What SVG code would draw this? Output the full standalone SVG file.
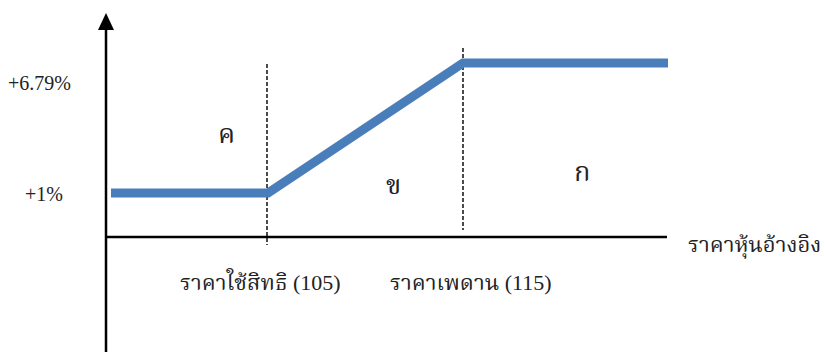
<svg xmlns="http://www.w3.org/2000/svg" width="825" height="352" viewBox="0 0 825 352">
<defs>
<style>
.t{font-family:"Liberation Serif","Times New Roman",serif;font-size:20px;fill:#222;}
.th{font-family:"Liberation Serif","Noto Serif Thai","Noto Sans Thai",serif;font-size:22px;fill:#222;}
.big{font-size:27px;}
.ax{stroke:#000;stroke-width:2.5;fill:none;}
.dash{stroke:#111;stroke-width:1.5;stroke-dasharray:4,2;fill:none;}
.curve{stroke:#4a7ebb;stroke-width:9;fill:none;stroke-linejoin:miter;}
</style>
</defs>
<rect width="825" height="352" fill="#fff"/>
<g id="connectors">
<line class="ax" x1="106" y1="352" x2="106" y2="28"/>
<polygon points="106,13 98,30 114,30" fill="#000"/>
<line class="ax" x1="106" y1="237" x2="667" y2="237"/>
<line class="dash" x1="267" y1="64" x2="267" y2="245"/>
<line class="dash" x1="463" y1="48" x2="463" y2="230"/>
<polyline class="curve" points="111,193 268,193 463,63 668,63"/>
</g>
<g id="ylabels">
<text class="t" x="8" y="90">+6.79%</text>
<text class="t" x="25" y="201">+1%</text>
</g>
<g id="regions">
<text class="th big" x="218" y="143">ค</text>
<text class="th big" x="386" y="194">ข</text>
<text class="th big" x="574" y="181">ก</text>
</g>
<g id="xlabels">
<text class="th" x="180" y="290">ราคาใช้สิทธิ (105)</text>
<text class="th" x="390" y="290">ราคาเพดาน (115)</text>
<text class="th" x="688" y="252">ราคาหุ้นอ้างอิง</text>
</g>
</svg>
